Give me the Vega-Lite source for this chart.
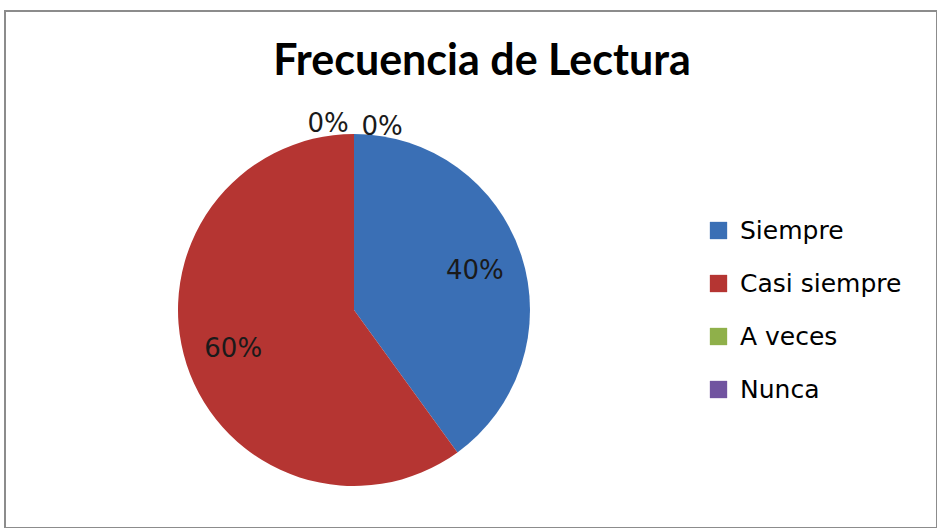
{
  "$schema": "https://vega.github.io/schema/vega-lite/v6.json",
  "autosize": "none",
  "width": 932,
  "height": 517,
  "padding": {"left": 5, "top": 11, "right": 0, "bottom": 0},
  "background": "white",
  "view": {"stroke": "#8c8c8c", "strokeWidth": 2},
  "title": {
    "text": "Frecuencia de Lectura",
    "font": "Lato",
    "fontSize": 43,
    "fontWeight": "bold",
    "color": "#000000",
    "anchor": "middle",
    "frame": "group",
    "baseline": "alphabetic",
    "dx": 11,
    "dy": 111
  },
  "data": {
    "values": [
      {"categoria": "Siempre", "porcentaje": 40, "etiqueta": "40%", "orden": 1},
      {"categoria": "Casi siempre", "porcentaje": 60, "etiqueta": "60%", "orden": 2},
      {"categoria": "A veces", "porcentaje": 0, "etiqueta": "0%", "orden": 3},
      {"categoria": "Nunca", "porcentaje": 0, "etiqueta": "0%", "orden": 4}
    ]
  },
  "layer": [
    {
      "mark": {"type": "arc", "x": 349, "y": 299, "outerRadius": 176},
      "encoding": {
        "theta": {"field": "porcentaje", "type": "quantitative", "stack": true},
        "order": {"field": "orden", "type": "quantitative"},
        "color": {
          "field": "categoria",
          "type": "nominal",
          "scale": {
            "domain": ["Siempre", "Casi siempre", "A veces", "Nunca"],
            "range": ["#3a6fb5", "#b53532", "#8fb04a", "#7154a0"]
          },
          "legend": {
            "orient": "none",
            "legendX": 701,
            "legendY": 207,
            "title": null,
            "symbolType": "square",
            "symbolSize": 300,
            "symbolStrokeWidth": 0,
            "labelFont": "DejaVu Sans",
            "labelFontSize": 25,
            "labelColor": "#000000",
            "labelLimit": 400,
            "rowPadding": 27,
            "labelOffset": 9
          }
        }
      }
    },
    {
      "transform": [{"filter": "datum.porcentaje > 0"}],
      "mark": {"type": "text", "x": 349, "y": 299, "radius": 127, "font": "DejaVu Sans", "fontSize": 26, "color": "#1a1a1a", "baseline": "middle", "align": "center"},
      "encoding": {
        "theta": {"field": "porcentaje", "type": "quantitative", "stack": true},
        "order": {"field": "orden", "type": "quantitative"},
        "text": {"field": "etiqueta", "type": "nominal"}
      }
    },
    {
      "transform": [{"filter": "datum.categoria == 'A veces'"}],
      "mark": {"type": "text", "x": 349, "y": 299, "radius": 186, "dx": -26, "font": "DejaVu Sans", "fontSize": 26, "color": "#1a1a1a", "baseline": "middle", "align": "center"},
      "encoding": {
        "theta": {"field": "porcentaje", "type": "quantitative", "stack": true},
        "text": {"field": "etiqueta", "type": "nominal"}
      }
    },
    {
      "transform": [{"filter": "datum.categoria == 'Nunca'"}],
      "mark": {"type": "text", "x": 349, "y": 299, "radius": 183, "dx": 28, "font": "DejaVu Sans", "fontSize": 26, "color": "#1a1a1a", "baseline": "middle", "align": "center"},
      "encoding": {
        "theta": {"field": "porcentaje", "type": "quantitative", "stack": true},
        "text": {"field": "etiqueta", "type": "nominal"}
      }
    }
  ]
}
